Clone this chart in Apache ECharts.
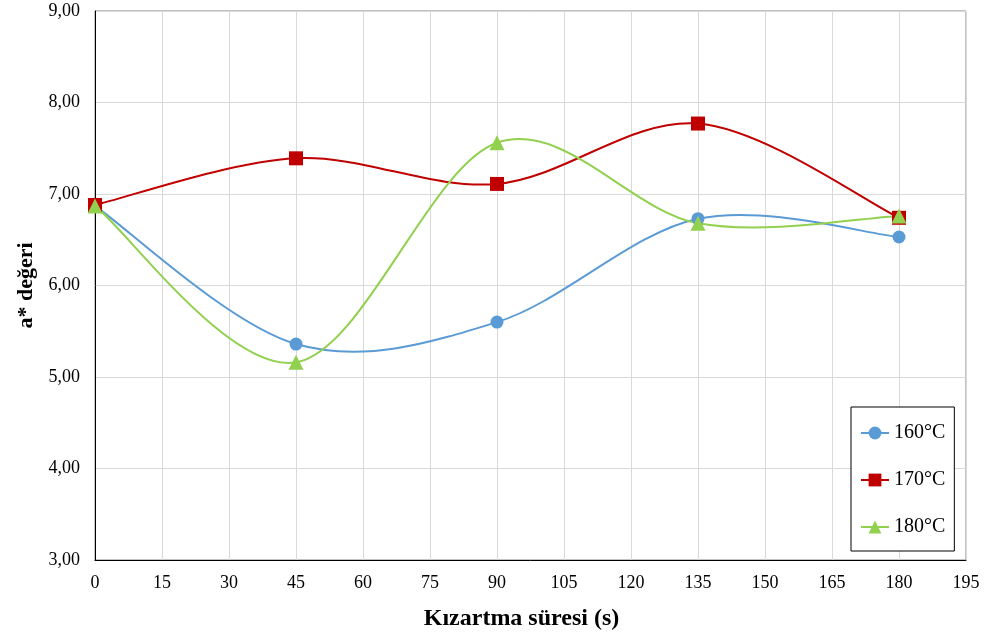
<!DOCTYPE html>
<html>
<head>
<meta charset="utf-8">
<script src="https://cdn.jsdelivr.net/npm/echarts@6/dist/echarts.min.js"></script>
<style>
  html, body { margin: 0; padding: 0; background: #ffffff; }
  #chart { width: 985px; height: 636px; }
</style>
</head>
<body>
<div id="chart"></div>
<script>
// Frying time (s) and a* colour values at each frying temperature
const times = [0, 45, 90, 135, 180];
const temp160 = [6.87, 5.36, 5.60, 6.73, 6.53];
const temp170 = [6.88, 7.39, 7.11, 7.77, 6.74];
const temp180 = [6.87, 5.16, 7.56, 6.68, 6.76];
const seriesNames = ['160°C', '170°C', '180°C'];
const xTicks = { min: 0, max: 195, step: 15 };
const yTicks = { min: 3, max: 9, step: 1 };

const colors = ['#5B9BD5', '#C00000', '#92D050'];
const symbols = ['circle', 'rect', 'triangle'];
const symbolSizes = [13, 14, 15];
const font = '"Liberation Serif", "Times New Roman", serif';

const chart = echarts.init(document.getElementById('chart'));

// Smooth curve segments: cubic Bezier with Catmull-Rom style tangents (1/6 of neighbour span)
function curveSeries(values, color) {
  const data = times.map((t, i) => [t, values[i]]);
  return {
    type: 'custom',
    z: 2,
    silent: true,
    data: data,
    encode: { x: 0, y: 1 },
    renderItem: function (params, api) {
      const i = params.dataIndex;
      if (i >= data.length - 1) return null;
      const p = data.map(d => api.coord(d));
      const p0 = p[Math.max(i - 1, 0)];
      const p1 = p[i];
      const p2 = p[i + 1];
      const p3 = p[Math.min(i + 2, p.length - 1)];
      return {
        type: 'bezierCurve',
        shape: {
          x1: p1[0], y1: p1[1],
          x2: p2[0], y2: p2[1],
          cpx1: p1[0] + (p2[0] - p0[0]) / 6,
          cpy1: p1[1] + (p2[1] - p0[1]) / 6,
          cpx2: p2[0] - (p3[0] - p1[0]) / 6,
          cpy2: p2[1] - (p3[1] - p1[1]) / 6
        },
        style: { stroke: color, lineWidth: 2, fill: null }
      };
    }
  };
}

// Marker series (also provide the legend entries)
function markerSeries(name, values, idx) {
  return {
    name: name,
    type: 'line',
    z: 3,
    data: times.map((t, i) => [t, values[i]]),
    symbol: symbols[idx],
    symbolSize: symbolSizes[idx],
    showAllSymbol: true,
    itemStyle: { color: colors[idx] },
    lineStyle: { width: 0, opacity: 0 },
    emphasis: { disabled: true },
    animation: false
  };
}

const allValues = [temp160, temp170, temp180];

chart.setOption({
  backgroundColor: '#ffffff',
  animation: false,
  textStyle: { fontFamily: font },
  grid: {
    left: 95, right: 19, top: 11, bottom: 76,
    show: true, borderColor: '#868686', borderWidth: 1, backgroundColor: 'transparent'
  },
  legend: {
    orient: 'vertical',
    left: 851, top: 407,
    padding: [16, 9, 14, 9],
    itemGap: 27,
    itemWidth: 28,
    itemHeight: 16,
    backgroundColor: '#ffffff',
    borderColor: '#000000',
    borderWidth: 1,
    borderRadius: 0,
    selectedMode: false,
    textStyle: { fontFamily: font, fontSize: 20, color: '#000000' },
    data: seriesNames.map((n, i) => ({
      name: n,
      lineStyle: { color: colors[i], width: 2, opacity: 1 }
    }))
  },
  xAxis: {
    type: 'value',
    min: xTicks.min, max: xTicks.max, interval: xTicks.step,
    name: 'Kızartma süresi (s)',
    nameLocation: 'middle',
    nameGap: 47,
    nameTextStyle: {
      fontFamily: font, fontSize: 24, fontWeight: 'bold', color: '#000000',
      padding: [0, 18, 0, 0]
    },
    axisLine: { show: true, onZero: false, lineStyle: { color: '#000000', width: 1 } },
    axisTick: { show: false },
    axisLabel: { fontFamily: font, fontSize: 18, color: '#000000', margin: 14 },
    splitLine: { show: true, lineStyle: { color: '#D9D9D9', width: 1 } }
  },
  yAxis: {
    type: 'value',
    min: yTicks.min, max: yTicks.max, interval: yTicks.step,
    name: 'a* değeri',
    nameLocation: 'middle',
    nameGap: 56,
    nameTextStyle: { fontFamily: font, fontSize: 22, fontWeight: 'bold', color: '#000000' },
    axisLine: { show: true, lineStyle: { color: '#000000', width: 1 } },
    axisTick: { show: false },
    axisLabel: {
      fontFamily: font, fontSize: 18, color: '#000000', margin: 15,
      formatter: v => v.toFixed(2).replace('.', ',')
    },
    splitLine: { show: true, lineStyle: { color: '#D9D9D9', width: 1 } }
  },
  series: [
    ...allValues.map((v, i) => curveSeries(v, colors[i])),
    ...allValues.map((v, i) => markerSeries(seriesNames[i], v, i))
  ]
});
</script>
</body>
</html>
